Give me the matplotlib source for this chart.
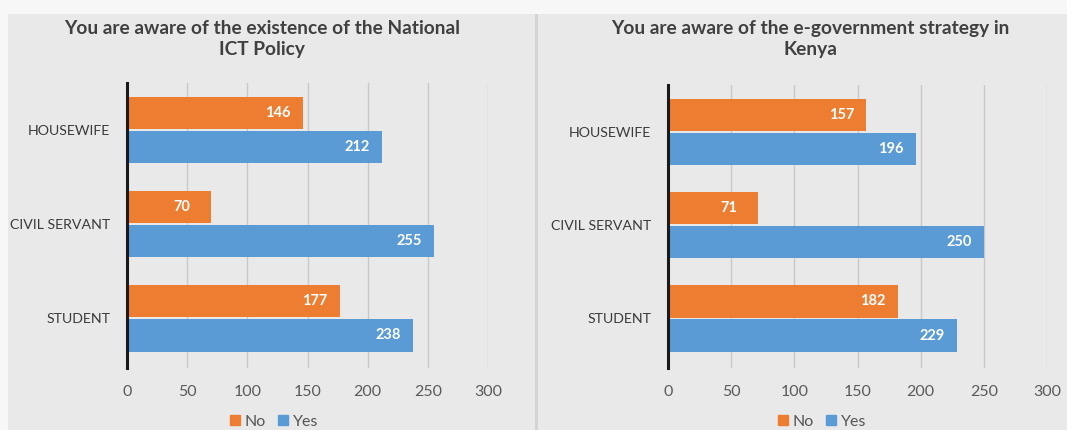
import numpy as np
import matplotlib.pyplot as plt
from matplotlib.patches import Rectangle, Patch

plt.rcParams['font.family'] = ['Lato', 'DejaVu Sans']

categories = ['STUDENT', 'CIVIL SERVANT', 'HOUSEWIFE']

# survey counts, bottom to top
policy_no = [177, 70, 146]
policy_yes = [238, 255, 212]
strategy_no = [182, 71, 157]
strategy_yes = [229, 250, 196]

titles = ['You are aware of the existence of the National\nICT Policy',
          'You are aware of the e-government strategy in\nKenya']

ORANGE = '#ED7D31'
BLUE = '#5B9BD5'

fig = plt.figure(figsize=(10.67, 4.30), dpi=100)
fig.patch.set_facecolor('#f7f7f7')

# two panel backgrounds with a thin seam between them
for x, w, c in [(8, 527, '#e9e9e9'), (538, 529, '#e9e9e9'), (535, 3, '#d4d4d4')]:
    fig.patches.append(Rectangle((x / 1067, 0), w / 1067, 1 - 14 / 430,
                                 transform=fig.transFigure, facecolor=c,
                                 edgecolor='none', zorder=-5))

panels = [
    (policy_no, policy_yes, [127, 361, 83, 368], 262),
    (strategy_no, strategy_yes, [668, 379, 85, 368], 810),
]

y = np.arange(len(categories))
h = 0.345

for (no_vals, yes_vals, box, title_x), title in zip(panels, titles):
    x0, w, top, bottom = box
    ax = fig.add_axes([x0 / 1067, 1 - bottom / 430, w / 1067, (bottom - top) / 430])
    ax.set_facecolor('none')

    b_no = ax.barh(y + h / 2 + 0.01, no_vals, height=h, color=ORANGE, zorder=3)
    b_yes = ax.barh(y - h / 2 - 0.01, yes_vals, height=h, color=BLUE, zorder=3)
    for bars in (b_no, b_yes):
        ax.bar_label(bars, label_type='edge', padding=-27, color='white',
                     fontsize=10.5, fontweight='bold')

    ax.set_xlim(0, 300)
    ax.set_ylim(-0.53, 2.5)
    ax.set_xticks(range(0, 301, 50))
    ax.set_yticks(y)
    ax.set_yticklabels(categories)
    ax.tick_params(axis='x', length=0, labelsize=11.5, colors='#5a5a5a', pad=12)
    ax.tick_params(axis='y', length=0, labelsize=10.2, colors='#3a3a3a', pad=12)

    ax.grid(axis='x', color='#c8c8c8', linewidth=1.0, zorder=0)
    for side in ('top', 'right', 'bottom'):
        ax.spines[side].set_visible(False)
    ax.spines['left'].set_color('#1a1a1a')
    ax.spines['left'].set_linewidth(2.2)
    ax.spines['left'].set_zorder(4)

    fig.text(title_x / 1067, 1 - 39 / 430, title, ha='center', va='center',
             fontsize=13.8, fontweight='bold', color='#404040', linespacing=1.35)

    handles = [Patch(color=ORANGE, label='No'), Patch(color=BLUE, label='Yes')]
    fig.legend(handles=handles, loc='center', ncol=2, frameon=False,
               bbox_to_anchor=((title_x + 12) / 1067, 1 - 422 / 430),
               fontsize=11.5, handlelength=0.6, handleheight=0.6,
               handletextpad=0.3, columnspacing=0.8, labelcolor='#555555')

fig.savefig('out.png', dpi=100, facecolor=fig.get_facecolor())
